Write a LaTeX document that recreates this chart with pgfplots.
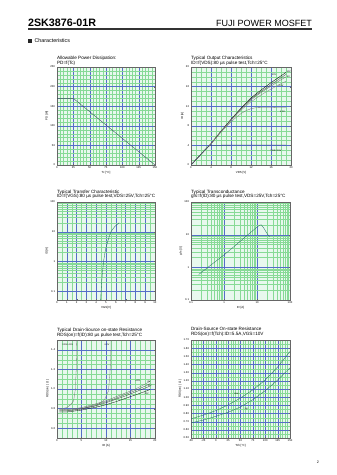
\documentclass[border=0pt]{standalone}
\usepackage{fontspec}
\setmainfont{Liberation Sans}
\usepackage{pgfplots}
\pgfplotsset{compat=1.18}
\definecolor{bgc}{RGB}{232,248,238}
\definecolor{minc}{RGB}{135,218,150}
\definecolor{majc}{RGB}{85,110,200}
\definecolor{crv}{RGB}{55,70,95}
\definecolor{crvg}{RGB}{40,110,100}
\newcommand{\uu}{1.7726pt}
\newcommand{\tf}{\fontsize{8.2}{9}\selectfont}
\newcommand{\lf}{\fontsize{4}{4.5}\selectfont}
\pgfplotsset{
  ds/.style={
    scale only axis,
    width=173.7pt, height=173.7pt,
    anchor=south west,
    axis background/.style={fill=bgc},
    grid=both,
    major grid style={draw=majc, line width=0.4pt},
    minor grid style={draw=minc, line width=0.3pt},
    axis line style={draw=black!60, line width=0.4pt},
    tick style={draw=black!60, line width=0.3pt},
    major tick length=1.5pt, minor tick length=0pt,
    tick label style={font=\fontsize{4.8}{5}\selectfont},
    label style={font=\fontsize{5.2}{6}\selectfont},
    /pgf/number format/assume math mode=true,
    xlabel style={yshift=3pt},
    ylabel style={yshift=-3pt},
  }
}
\begin{document}
\begin{tikzpicture}
\fill[white] (0,0) rectangle ({336*\uu},{-475*\uu});
% header
\node[anchor=base west, inner sep=0pt, font=\fontsize{19}{19}\selectfont\bfseries] at ({28*\uu},{-26*\uu}) {2SK3876-01R};
\node[anchor=base east, inner sep=0pt, font=\fontsize{16}{16}\selectfont] at ({312*\uu},{-26*\uu}) {FUJI POWER MOSFET};
\draw[line width=2.2pt, black!80] ({28*\uu},{-28.9*\uu}) -- ({312*\uu},{-28.9*\uu});
\fill[black!85] ({28*\uu},{-39.2*\uu}) rectangle ({32.3*\uu},{-43*\uu});
\node[anchor=base west, inner sep=0pt, font=\fontsize{9.5}{10}\selectfont] at ({34.5*\uu},{-42.8*\uu}) {Characteristics};
\node[font=\fontsize{6.5}{7}\selectfont] at ({318*\uu},{-462*\uu}) {2};

% titles
\node[anchor=base west, inner sep=0pt, font=\tf] at ({57*\uu},{-59.5*\uu}) {Allowable Power Dissipation:};
\node[anchor=base west, inner sep=0pt, font=\tf] at ({57*\uu},{-64.5*\uu}) {PD=f(Tc)};
\node[anchor=base west, inner sep=0pt, font=\tf] at ({191*\uu},{-59.5*\uu}) {Typical Output Characteristics};
\node[anchor=base west, inner sep=0pt, font=\tf] at ({191*\uu},{-64.5*\uu}) {ID=f(VDS):80 µs pulse test,Tch=25°C};
\node[anchor=base west, inner sep=0pt, font=\tf] at ({57*\uu},{-193*\uu}) {Typical Transfer Characteristic};
\node[anchor=base west, inner sep=0pt, font=\tf] at ({57*\uu},{-197.8*\uu}) {ID=f(VGS):80 µs pulse test,VDS=25V,Tch=25°C};
\node[anchor=base west, inner sep=0pt, font=\tf] at ({191*\uu},{-193*\uu}) {Typical Transconductance};
\node[anchor=base west, inner sep=0pt, font=\tf] at ({191*\uu},{-197.8*\uu}) {gfs=f(ID):80 µs pulse test,VDS=25V,Tch=25°C};
\node[anchor=base west, inner sep=0pt, font=\tf] at ({57*\uu},{-331*\uu}) {Typical Drain-Source on-state Resistance};
\node[anchor=base west, inner sep=0pt, font=\tf] at ({57*\uu},{-336*\uu}) {RDS(on)=f(ID):80 µs pulse test,Tch=25°C};
\node[anchor=base west, inner sep=0pt, font=\tf] at ({191*\uu},{-330*\uu}) {Drain-Source On-state Resistance};
\node[anchor=base west, inner sep=0pt, font=\tf] at ({191*\uu},{-335.5*\uu}) {RDS(on)=f(Tch):ID=5.5A,VGS=10V};

% Plot 1
\begin{axis}[ds, at={({57*\uu},{-165*\uu})}, xmin=0, xmax=150, ymin=0, ymax=250,
  xtick={0,25,50,75,100,125,150}, ytick={0,50,100,150,200,250},
  minor x tick num=4, minor y tick num=4,
  xlabel={Tc [°C]}, ylabel={PD [W]}]
\addplot[crv, line width=0.6pt] coordinates {(0,170)(25,170)(150,0)};
\end{axis}

% Plot 2
\begin{axis}[ds, at={({191*\uu},{-165*\uu})}, width=177.3pt, xmin=0, xmax=20, ymin=0, ymax=20,
  xtick={0,4,8,12,16,20}, ytick={0,4,8,12,16,20},
  minor x tick num=3, minor y tick num=3,
  xlabel={VDS [V]}, ylabel={ID [A]}]
\addplot[black, line width=0.6pt] coordinates {(0,0)(1,1.1)(2,2.2)(3,3.3)(4,4.35)(6,6.9)(8,9.3)(10,11.6)(12,13.7)(14,15.3)(16,16.8)(18,18.2)(19,18.9)};
\addplot[black!75, line width=0.5pt] coordinates {(0,0)(1,1.1)(2,2.2)(3,3.3)(4,4.35)(6,6.9)(8,9.3)(10,11.5)(12,13.5)(14,15.0)(16,16.4)(18,17.8)(19,18.5)};
\addplot[black!60, line width=0.5pt] coordinates {(0,0)(1,1.1)(2,2.2)(3,3.3)(4,4.35)(6,6.85)(8,9.2)(10,11.4)(12,13.3)(14,14.8)(16,16.1)(18,17.4)(19,18.0)};
\addplot[black!50, line width=0.5pt] coordinates {(0,0)(2,2.2)(4,4.3)(6,6.8)(8,9.1)(10,11.2)(12,12.9)(14,14.3)(16,15.5)(18,16.6)(19,17.1)};
\addplot[black!55, line width=0.5pt] coordinates {(0,0)(2,2.2)(4,4.3)(6,6.7)(7,7.8)(8,8.8)(9,9.7)(10,10.5)(11,11.1)(12,11.5)(13,11.7)(19,11.8)};
\addplot[crv, line width=0.5pt] coordinates {(0,0)(2,2.2)(3,3.3)(3.5,3.8)(4,4.0)(5,4.05)(19,4.1)};
\node[font=\lf] at (axis cs:16.6,18.5) {20V};
\node[font=\lf] at (axis cs:19.5,19.1) {10V};
\node[font=\lf] at (axis cs:19.5,18.0) {8V};
\node[font=\lf] at (axis cs:18,16.2) {6.5V};
\node[font=\lf] at (axis cs:18.3,10.9) {6.0V};
\node[font=\lf] at (axis cs:17,3.0) {VGS=4.5V};
\end{axis}

% Plot 3
\begin{axis}[ds, at={({57*\uu},{-300*\uu})}, xmin=0, xmax=10, ymode=log, ymin=0.05, ymax=100,
  xtick={0,1,...,10}, minor x tick num=1,
  ytick={0.1,1,10,100}, yticklabels={0.1,1,10,100},
  xlabel={VGS[V]}, ylabel={ID[A]}]
\addplot[crvg, line width=0.6pt] coordinates {(4.45,0.05)(4.5,0.1)(4.6,0.3)(4.75,1)(4.95,2.5)(5.2,5)(5.5,10)(5.9,15)(6.35,20)};
\end{axis}

% Plot 4
\begin{axis}[ds, at={({191*\uu},{-300*\uu})}, width=175.5pt, xmode=log, ymode=log, xmin=0.1, xmax=100, ymin=0.1, ymax=100,
  xtick={0.1,1,10,100}, xticklabels={0.1,1,10,100},
  ytick={0.1,1,10,100}, yticklabels={0.1,1,10,100},
  xlabel={ID [A]}, ylabel={gfs [S]}]
\addplot[crvg, line width=0.6pt] coordinates {(0.17,0.6)(0.5,1.4)(1,2.4)(2,4.3)(5,9.5)(10,17)(12,19.5)(13.5,20)(16,16)(20,11)(24,8.5)};
\end{axis}

% Plot 5
\begin{axis}[ds, at={({57*\uu},{-438*\uu})}, xmin=0, xmax=20, ymin=0.5, ymax=1.5,
  xtick={0,5,10,15,20}, ytick={0.6,0.8,1.0,1.2,1.4},
  minor x tick num=4, minor y tick num=3,
  yticklabel style={/pgf/number format/.cd, fixed, fixed zerofill, precision=1},
  xlabel={ID [A]}, ylabel={RDS(on) [ Ω ]}]
\addplot[black!55, line width=0.5pt] coordinates {(0.5,0.80)(1,0.80)(2,0.81)(2.8,0.84)(3.4,0.88)(3.75,1.0)(3.92,1.2)(4.02,1.5)};
\addplot[black!55, line width=0.5pt] coordinates {(0.5,0.79)(3,0.795)(5,0.80)(8,0.83)(9.7,0.89)(10.5,0.98)(10.8,1.15)(10.95,1.3)(11.05,1.5)};
\addplot[black!60, line width=0.5pt] coordinates {(0.5,0.79)(2,0.79)(5,0.81)(8,0.85)(10,0.88)(12,0.92)(14,0.96)(16,1.00)(18,1.05)(19,1.08)};
\addplot[black!70, line width=0.5pt] coordinates {(0.5,0.78)(2,0.78)(5,0.80)(8,0.84)(10,0.87)(12,0.905)(14,0.945)(16,0.985)(18,1.03)(19,1.055)};
\addplot[black!80, line width=0.5pt] coordinates {(0.5,0.775)(2,0.775)(5,0.795)(8,0.83)(10,0.86)(12,0.895)(14,0.93)(16,0.97)(18,1.01)(19,1.03)};
\addplot[black, line width=0.5pt] coordinates {(0.5,0.765)(2,0.765)(5,0.785)(8,0.815)(10,0.84)(12,0.87)(14,0.905)(16,0.94)(18,0.975)(19,0.995)};
\node[font=\lf] at (axis cs:2.2,1.45) {VGS=4.5V};
\node[font=\lf] at (axis cs:10.2,1.45) {6.0V};
\node[font=\lf] at (axis cs:16.5,1.08) {6.5V};
\node[font=\lf] at (axis cs:18.8,1.07) {8V};
\node[font=\lf] at (axis cs:18.9,1.035) {10V};
\node[font=\lf] at (axis cs:18.3,0.95) {20V};
\end{axis}

% Plot 6
\begin{axis}[ds, at={({191*\uu},{-438*\uu})}, width=175.5pt, xmin=-50, xmax=150, ymin=0.5, ymax=1.7,
  xtick={-50,-25,0,25,50,75,100,125,150},
  ytick={0.5,0.6,0.7,0.8,0.9,1.0,1.1,1.2,1.3,1.4,1.5,1.6,1.7},
  minor x tick num=4, minor y tick num=1,
  yticklabel style={/pgf/number format/.cd, fixed, fixed zerofill, precision=2},
  xlabel={Tch [°C]}, ylabel={RDS(on) [ Ω ]}]
\addplot[crvg, line width=0.6pt] coordinates {(-50,0.735)(-25,0.78)(0,0.835)(25,0.905)(50,0.99)(75,1.09)(100,1.21)(125,1.37)(150,1.56)};
\addplot[crvg, line width=0.6pt] coordinates {(-50,0.685)(-25,0.72)(0,0.765)(25,0.815)(50,0.88)(75,0.97)(100,1.08)(125,1.21)(150,1.36)};
\node[font=\lf] at (axis cs:42,1.035) {max};
\node[font=\lf] at (axis cs:62,0.86) {typ};
\end{axis}
\end{tikzpicture}
\end{document}
